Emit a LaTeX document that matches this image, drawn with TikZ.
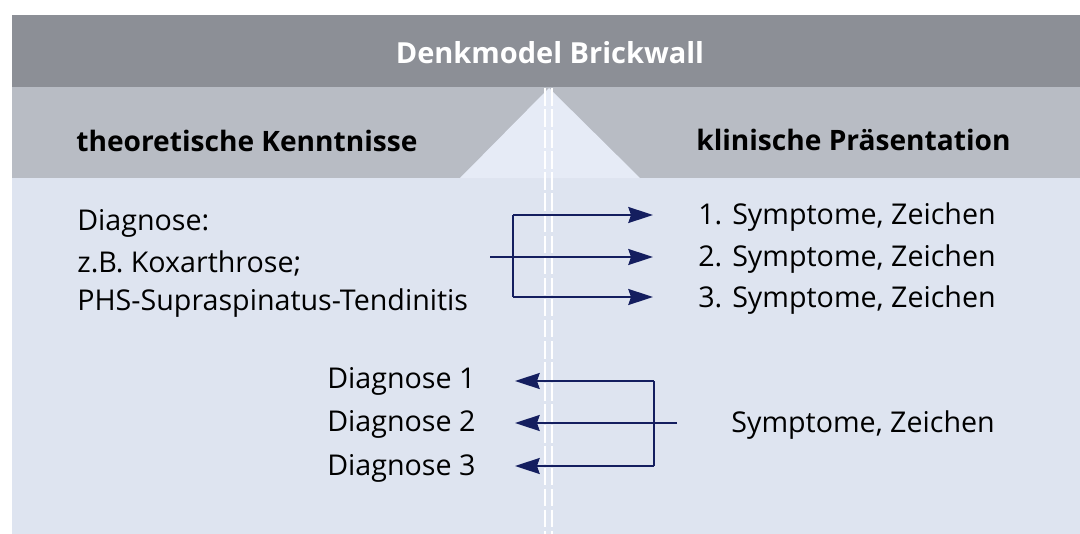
\documentclass[tikz,border=0pt]{standalone}
\usepackage{fontspec}
\setmainfont{Open Sans}
\usetikzlibrary{arrows.meta,calc}
\definecolor{band_dark}{RGB}{140, 143, 150}
\definecolor{band_mid}{RGB}{184, 188, 196}
\definecolor{bg_blue}{RGB}{222, 228, 240}
\definecolor{tri_blue}{RGB}{230, 235, 246}
\definecolor{arr_navy}{RGB}{20, 30, 95}
\tikzstyle{txt}=[anchor=base west,inner sep=0pt,font=\fontsize{16.3}{18}\selectfont]
\tikzstyle{head}=[anchor=base west,inner sep=0pt,font=\fontsize{16}{18}\selectfont\bfseries]
\tikzstyle{line}=[draw=arr_navy,line width=1.6pt]
\tikzstyle{arr}=[draw=arr_navy,line width=1.6pt,-{Stealth[length=14pt,width=9pt,inset=1.5pt]}]
\tikzstyle{none}=[inner sep=0pt]
\begin{document}
\begin{tikzpicture}[x=0.02cm, y=-0.02cm]
            \useasboundingbox (0, 0) rectangle (1080, 534);
            % background bands
            \fill [bg_blue] (12, 178) rectangle (1080, 534);
            \fill [band_mid] (12, 87) rectangle (1080, 178);
            \fill [band_dark] (12, 15) rectangle (1080, 87);
            \fill [tri_blue] (549, 88) -- (640, 178) -- (460, 178) -- cycle;
            \draw [white, line width=0.9pt, dash pattern=on 10pt off 2pt] (545, 88) -- (545, 534);
            \draw [white, line width=0.9pt, dash pattern=on 10pt off 2pt] (552, 88) -- (552, 534);
            % headings
            \node [anchor=base, inner sep=0pt, text=white, font=\fontsize{16.5}{18}\selectfont\bfseries] (0) at (550, 63) {Denkmodel Brickwall};
            \node [style=head] (1) at (76, 152) {theoretische Kenntnisse};
            \node [style=head] (2) at (696, 150) {klinische Präsentation};
            % upper part
            \node [style=txt] (3) at (77, 230) {Diagnose:};
            \node [style=txt] (4) at (77, 272) {z.B. Koxarthrose;};
            \node [style=txt] (5) at (77, 310) {PHS-Supraspinatus-Tendinitis};
            \node [style=txt] (6) at (698, 224) {1. Symptome, Zeichen};
            \node [style=txt] (7) at (698, 266) {2. Symptome, Zeichen};
            \node [style=txt] (8) at (698, 307) {3. Symptome, Zeichen};
            \coordinate (9) at (513, 215);
            \coordinate (10) at (513, 297);
            \coordinate (11) at (490, 257);
            \coordinate (12) at (653, 215);
            \coordinate (13) at (653, 257);
            \coordinate (14) at (653, 297);
            \draw [style=line] (9) to (10);
            \draw [style=arr] (9) to (12);
            \draw [style=arr] (11) to (13);
            \draw [style=arr] (10) to (14);
            % lower part
            \node [style=txt] (15) at (327, 388) {Diagnose 1};
            \node [style=txt] (16) at (327, 431) {Diagnose 2};
            \node [style=txt] (17) at (327, 475) {Diagnose 3};
            \node [style=txt] (18) at (731, 432) {Symptome, Zeichen};
            \coordinate (19) at (654, 381);
            \coordinate (20) at (654, 466);
            \coordinate (21) at (677, 423);
            \coordinate (22) at (515, 381);
            \coordinate (23) at (515, 423);
            \coordinate (24) at (515, 466);
            \draw [style=line] (19) to (20);
            \draw [style=arr] (19) to (22);
            \draw [style=arr] (21) to (23);
            \draw [style=arr] (20) to (24);
    \end{tikzpicture}
\end{document}
